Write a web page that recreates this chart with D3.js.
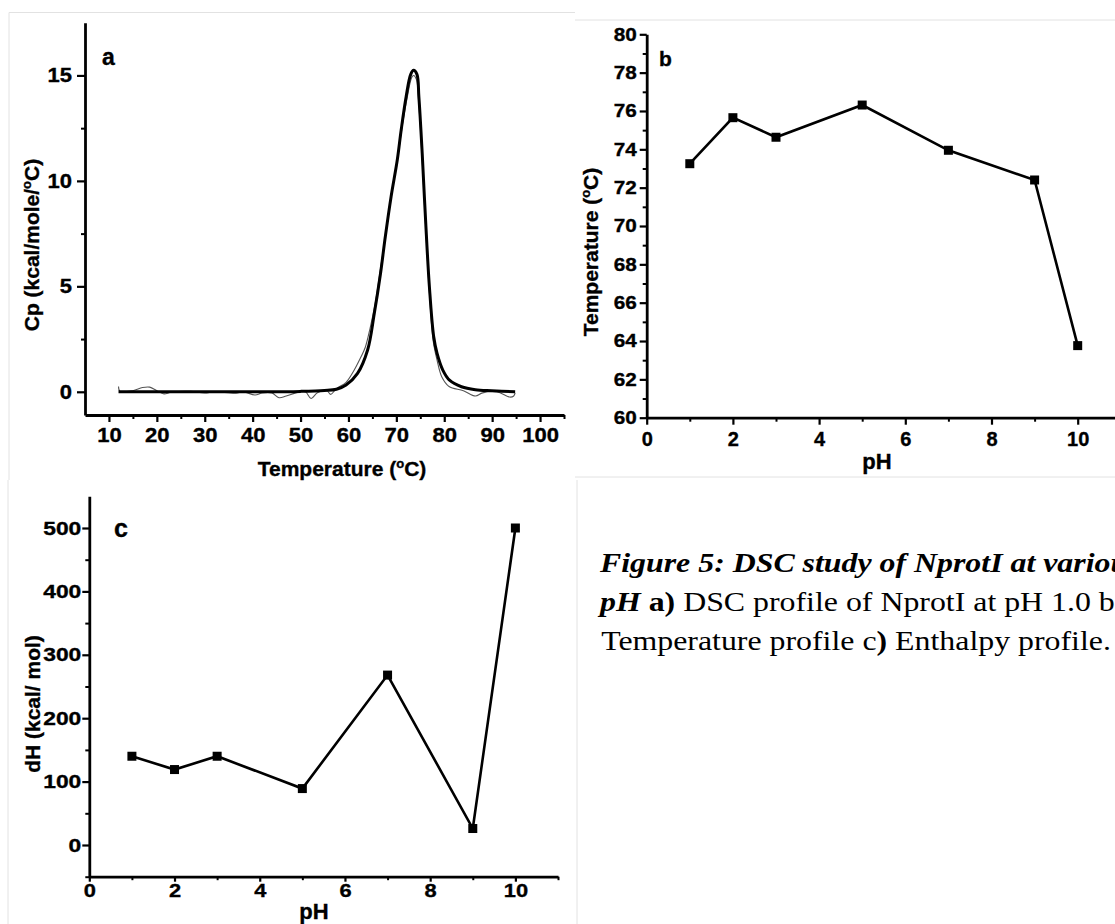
<!DOCTYPE html>
<html>
<head>
<meta charset="utf-8">
<script src="https://cdn.jsdelivr.net/npm/d3@7"></script>
<style>
body { margin: 0; background: #fff; }
svg { display: block; font-family: "Liberation Sans", Arial, sans-serif; }
</style>
</head>
<body>
<script>
// Panel a: DSC profile at pH 1.0, fitted curve and raw trace
var fitTemp = [12, 20, 30, 40, 50, 55, 57.5, 59.5, 61.9, 64.0, 65.4, 66.7, 67.7, 68.9, 70.2, 71.0, 72.05, 73.0, 73.6, 74.3, 74.7, 75.4, 76.1, 76.9, 77.8, 78.5, 79.7, 81.1, 83.6, 86.5, 89.9, 94.8];
var fitCp = [0, 0, 0, 0, 0.02, 0.06, 0.12, 0.32, 0.87, 1.98, 3.72, 5.62, 7.36, 9.25, 11.0, 12.4, 14.0, 15.05, 15.24, 15.05, 14.0, 11.3, 8.15, 4.98, 2.61, 1.82, 1.03, 0.55, 0.24, 0.1, 0.05, 0.0];

var rawTemp = [12.0, 12.3, 15, 17, 18.5, 20, 21.5, 23, 27, 30, 32, 36.5, 38, 40.5, 42, 44, 45.5, 47, 49, 51, 52.2, 53.5, 55.5, 56.3, 57.5, 59.5, 61, 62.5, 63.5, 64.5, 65.6, 66.8, 68.0, 69.2, 70.4, 71.3, 72.3, 73.2, 73.6, 74.2, 74.7, 75.4, 76.1, 76.9, 77.7, 78.5, 79.5, 81, 84, 86.5, 88, 91, 93.7, 94.5, 94.8];
var rawCp = [0.25, 0.02, 0.05, 0.2, 0.22, 0.05, -0.1, -0.02, 0.02, -0.06, 0, -0.07, 0, -0.15, -0.05, -0.05, -0.28, -0.2, -0.05, 0, -0.32, -0.05, 0.05, -0.12, 0.15, 0.45, 0.95, 1.6, 2.1, 3.0, 4.2, 6.0, 7.8, 9.7, 11.3, 12.7, 14.0, 14.9, 15.0, 14.8, 13.6, 11.0, 7.9, 4.7, 2.4, 1.5, 0.7, 0.25, 0.05, -0.2, -0.05, 0.0, -0.25, -0.2, -0.05];

// Panels b and c: values per pH
var pHValues = [1, 2, 3, 5, 7, 9, 10];
var tmValues = [73.25, 75.65, 74.63, 76.31, 73.95, 72.40, 63.76];
var dhValues = [140, 119, 140, 89, 268, 26, 500];

// tick values
var aXMajor = [10, 20, 30, 40, 50, 60, 70, 80, 90, 100];
var aXMinor = [15, 25, 35, 45, 55, 65, 75, 85, 95, 105];
var aYMajor = [0, 5, 10, 15];
var aYMinor = [2.5, 7.5, 12.5];
var bXMajor = [0, 2, 4, 6, 8, 10];
var bXMinor = [1, 3, 5, 7, 9];
var bYMajor = [60, 62, 64, 66, 68, 70, 72, 74, 76, 78, 80];
var bYMinor = [61, 63, 65, 67, 69, 71, 73, 75, 77, 79];
var cXMajor = [0, 2, 4, 6, 8, 10];
var cXMinor = [1, 3, 5, 7, 9, 11];
var cYMajor = [0, 100, 200, 300, 400, 500];
var cYMinor = [-50, 50, 150, 250, 350, 450];

var svg = d3.select("body").append("svg")
  .attr("width", 1115)
  .attr("height", 924);

svg.append("rect").attr("width", 1115).attr("height", 924).attr("fill", "#fff");

// faint frames around the pasted pictures
var frameColor = "#e2e2e2";
var frames = [
  [9, 12.5, 575, 12.5], [9, 12.5, 9, 480],
  [575, 20, 1115, 20], [575, 477, 1115, 477],
  [8, 480, 8, 924], [577, 480, 577, 924]
];
svg.selectAll("line.frame")
  .data(frames)
  .enter()
  .append("line")
  .attr("class", "frame")
  .attr("x1", d => d[0]).attr("y1", d => d[1])
  .attr("x2", d => d[2]).attr("y2", d => d[3])
  .attr("stroke", frameColor)
  .attr("stroke-width", 1);

// draw one axis with major + minor ticks
function drawAxis(orient, scale, pos, majors, minors, opt) {
  var isX = orient == "bottom";
  var maker = isX ? d3.axisBottom : d3.axisLeft;
  var tr = isX ? "translate(0," + pos + ")" : "translate(" + pos + ",0)";

  var minor = svg.append("g")
    .attr("transform", tr)
    .call(maker(scale).tickValues(minors).tickSize(opt.minorLen).tickSizeOuter(0).tickFormat(""));
  minor.select(".domain").remove();
  minor.selectAll(".tick line").attr("stroke", "#000").attr("stroke-width", 2);

  var g = svg.append("g")
    .attr("transform", tr)
    .call(maker(scale).tickValues(majors).tickSize(opt.len).tickSizeOuter(0).tickPadding(opt.pad));
  g.attr("font-family", null).attr("font-size", null);
  g.select(".domain").attr("stroke", "#000").attr("stroke-width", 2.8);
  g.selectAll(".tick line").attr("stroke", "#000").attr("stroke-width", 2.2);
  var txt = g.selectAll(".tick text")
    .attr("font-size", opt.fs)
    .attr("font-weight", "bold")
    .attr("fill", "#000")
    .attr("stroke", "#000")
    .attr("stroke-width", 0.35);
  if (opt.sx && opt.sx != 1) {
    if (isX) {
      txt.attr("transform", "scale(" + opt.sx + ",1)");
    } else {
      txt.attr("x", -(opt.len + opt.pad) / opt.sx)
        .attr("transform", "scale(" + opt.sx + ",1)");
    }
  }
  return g;
}

// axis title with superscript degree "o"
function degreeTitle(sel, before, after, fs) {
  sel.append("tspan").text(before);
  sel.append("tspan").attr("font-size", fs * 0.62).attr("dy", -fs * 0.38).text("o");
  sel.append("tspan").attr("dy", fs * 0.38).text(after);
}

function boldText(x, y, fs, anchor) {
  return svg.append("text")
    .attr("x", x).attr("y", y)
    .attr("text-anchor", anchor || "start")
    .attr("font-size", fs)
    .attr("font-weight", "bold")
    .attr("stroke", "#000")
    .attr("stroke-width", 0.35);
}

// ---------- panel a ----------
var xA = d3.scaleLinear().domain([5, 105]).range([85, 564]);
var yA = d3.scaleLinear().domain([-1.1, 17.5]).range([415, 22.7]);

var rawA = rawTemp.map((t, i) => [t, rawCp[i]]);
var fitA = fitTemp.map((t, i) => [t, fitCp[i]]);
var lineA = d3.line()
  .x(d => xA(d[0]))
  .y(d => yA(d[1]))
  .curve(d3.curveCatmullRom.alpha(0.5));

svg.append("path")
  .attr("d", lineA(rawA))
  .attr("fill", "none")
  .attr("stroke", "#555")
  .attr("stroke-width", 1.1);

svg.append("path")
  .attr("d", lineA(fitA))
  .attr("fill", "none")
  .attr("stroke", "#000")
  .attr("stroke-width", 3);

drawAxis("bottom", xA, 415, aXMajor, aXMinor, {len: 7, minorLen: 4, pad: 5, fs: 21, sx: 1.05});
drawAxis("left", yA, 85, aYMajor, aYMinor, {len: 8, minorLen: 4, pad: 5, fs: 20, sx: 1.1});

var aXTitle = boldText(342, 476, 21, "middle");
degreeTitle(aXTitle, "Temperature (", "C)", 21);

var aYTitle = boldText(0, 0, 21, "middle")
  .attr("transform", "translate(38.5,245) rotate(-90)");
degreeTitle(aYTitle, "Cp (kcal/mole/", "C)", 21);

boldText(102, 65, 23).text("a");

// ---------- panel b ----------
var xB = d3.scaleLinear().domain([0, 11]).range([646.7, 1120.8]);
var yB = d3.scaleLinear().domain([60, 80]).range([417.7, 34.3]);

var ptsB = pHValues.map((p, i) => [p, tmValues[i]]);
var lineB = d3.line().x(d => xB(d[0])).y(d => yB(d[1]));

svg.append("path")
  .attr("d", lineB(ptsB))
  .attr("fill", "none")
  .attr("stroke", "#000")
  .attr("stroke-width", 2.6);

svg.selectAll("rect.mb")
  .data(ptsB)
  .enter()
  .append("rect")
  .attr("class", "mb")
  .attr("x", d => xB(d[0]) - 4.5)
  .attr("y", d => yB(d[1]) - 4.5)
  .attr("width", 9)
  .attr("height", 9)
  .attr("fill", "#000");

drawAxis("bottom", xB, 417.7, bXMajor, bXMinor, {len: 7, minorLen: 4, pad: 7, fs: 20, sx: 1});
drawAxis("left", yB, 646.7, bYMajor, bYMinor, {len: 7, minorLen: 4, pad: 3, fs: 18, sx: 1.15});

boldText(877, 469, 22, "middle").text("pH");

var bYTitle = boldText(0, 0, 21, "middle")
  .attr("transform", "translate(598,252) rotate(-90)");
degreeTitle(bYTitle, "Temperature (", "C)", 21);

boldText(659, 66, 21).text("b");

// ---------- panel c ----------
var xC = d3.scaleLinear().domain([0, 11]).range([89.3, 558]);
var yC = d3.scaleLinear().domain([-50, 550]).range([876.7, 496.3]);

var ptsC = pHValues.map((p, i) => [p, dhValues[i]]);
var lineC = d3.line().x(d => xC(d[0])).y(d => yC(d[1]));

svg.append("path")
  .attr("d", lineC(ptsC))
  .attr("fill", "none")
  .attr("stroke", "#000")
  .attr("stroke-width", 2.6);

svg.selectAll("rect.mc")
  .data(ptsC)
  .enter()
  .append("rect")
  .attr("class", "mc")
  .attr("x", d => xC(d[0]) - 4.5)
  .attr("y", d => yC(d[1]) - 4.5)
  .attr("width", 9)
  .attr("height", 9)
  .attr("fill", "#000");

drawAxis("bottom", xC, 876.7, cXMajor, cXMinor, {len: 5, minorLen: 3.5, pad: 2, fs: 19, sx: 1.15});
drawAxis("left", yC, 89.3, cYMajor, cYMinor, {len: 7, minorLen: 4, pad: 1, fs: 19, sx: 1.2});

boldText(314, 919, 22, "middle").text("pH");

boldText(0, 0, 21, "middle")
  .attr("transform", "translate(40,704) rotate(-90)")
  .text("dH (kcal/ mol)");

boldText(114, 537, 25).text("c");

// ---------- caption (runs off the right edge, as in the source page) ----------
var cap = svg.append("g")
  .attr("transform", "translate(600,0) scale(1.18,1)")
  .attr("font-family", "'Liberation Serif', 'Times New Roman', serif")
  .attr("font-size", 27);

cap.append("text")
  .attr("x", 0).attr("y", 572)
  .attr("font-weight", "bold")
  .attr("font-style", "italic")
  .text("Figure 5: DSC study of NprotI at various");

var l2 = cap.append("text").attr("x", 0).attr("y", 611);
l2.append("tspan").attr("font-weight", "bold").attr("font-style", "italic").text("pH");
l2.append("tspan").attr("font-weight", "bold").text(" a)");
l2.append("tspan").text(" DSC profile of NprotI at pH 1.0 b)");

var l3 = cap.append("text").attr("x", 1).attr("y", 650);
l3.append("tspan").text("Temperature profile c");
l3.append("tspan").attr("font-weight", "bold").text(")");
l3.append("tspan").text(" Enthalpy profile.");
</script>
</body>
</html>
